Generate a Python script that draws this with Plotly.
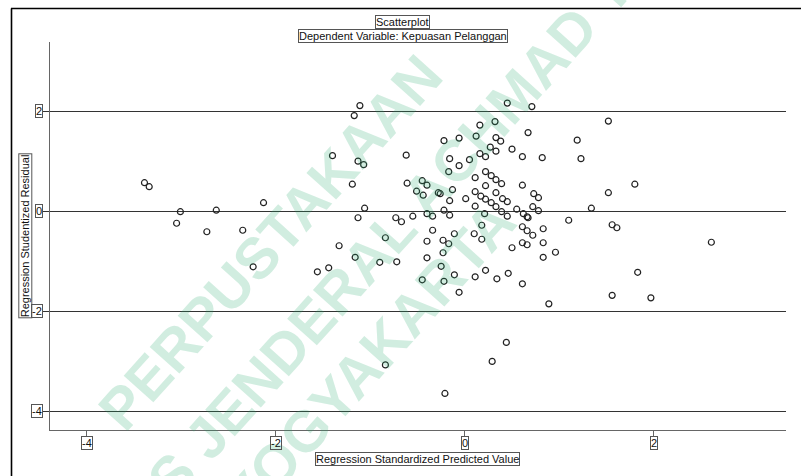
import plotly.graph_objects as go

# Regression residual scatter: standardized predicted value vs studentized residual
pred_std = [
    -3.39, -3.34, -3.01, -3.05, -2.63, -2.73, -2.13, -2.35, -2.24, -1.56,
    -1.44, -1.33, -1.16, -0.90, -0.72, -0.84, -0.84, -1.11, -1.17, -1.40,
    -1.13, -1.07, -1.19, -1.06, -1.13, -0.73, -0.67, -0.62, -0.61, -0.45,
    -0.40, -0.51, -0.44, -0.55, -0.40, -0.40, -0.40, -0.45,
    -0.22, -0.11, 0.11, 0.22, 0.34, 0.46, 0.61, -0.06, 0.89, -0.21,
    0.29, 0.44, -0.23, -0.17, -0.23, -0.25, 0.18, 0.50, 0.61, 0.66,
    0.83, 0.83, 0.96, -0.34, -0.34, -0.11, 0.10, 0.18, -0.22, -0.16,
    0.21, 0.11, -0.16, 0.01, -0.28, -0.26, -0.13, 0.11, 0.17, 0.22,
    0.28, 0.33, 0.39, 0.45, 0.33, 0.40, 0.45, 0.11, 0.22, 0.22,
    0.28, 0.33, 0.39, 0.61, -0.17, -0.06, -0.16, 0.05, 0.16, 0.22,
    0.27, 0.33, -0.22, -0.06, 0.12, 0.33, 0.38, 0.16, 0.32, 0.45,
    0.71, 0.67, 0.50, 0.61, 0.82, 0.73, 0.78, 0.55, 0.72, 0.78,
    0.62, 0.66, 0.67, 0.61, 0.66, 0.72, 0.83, 1.10, 1.34, 1.56,
    1.61, 1.52, 1.80, 1.19, 1.23, 1.52, 1.83, 1.56, 1.97, 2.61,
]
resid_stud = [
    0.57, 0.49, -0.01, -0.24, 0.02, -0.41, 0.17, -0.38, -1.11, -1.21,
    -1.13, -0.69, -0.92, -1.02, -1.01, -3.07, -0.53, 2.11, 1.91, 1.11,
    1.00, 0.93, 0.54, 0.06, -0.13, -0.13, -0.21, 1.12, 0.56, 0.61,
    0.52, 0.40, 0.32, -0.10, -0.05, -0.60, -0.93, -1.37,
    -1.40, -1.27, -1.31, -1.18, -1.35, -1.24, -1.45, -1.62, -1.85, -3.64,
    -3.00, -2.62, -0.58, -0.65, -0.83, -1.10, -0.56, -0.73, -0.63, -0.67,
    -0.63, -0.92, -0.82, -0.38, -0.10, -0.45, -0.45, -0.28, 0.02, -0.08,
    -0.05, 0.10, 0.21, 0.25, 0.37, 0.35, 0.43, 0.39, 0.30, 0.24,
    0.17, 0.09, -0.01, -0.10, 0.37, 0.25, 0.19, 0.67, 0.51, 0.79,
    0.71, 0.63, 0.55, 0.52, 0.79, 0.91, 1.05, 1.03, 1.15, 1.09,
    1.28, 1.20, 1.41, 1.46, 1.50, 1.47, 1.40, 1.72, 1.79, 2.16,
    2.09, 1.57, 1.24, 1.09, 1.07, 0.35, 0.27, 0.04, 0.09, 0.01,
    -0.05, -0.11, -0.13, -0.31, -0.39, -0.48, -0.35, -0.18, 0.06, -0.27,
    -0.33, 0.37, 0.54, 1.42, 1.05, 1.80, -1.22, -1.68, -1.73, -0.62,
]

x_ticks = [-4, -2, 0, 2]
y_ticks = [-4, -2, 0, 2]
x_range = [-4.39, 3.40]
y_range = [-4.37, 3.38]

title_main = "Scatterplot"
title_sub = "Dependent Variable: Kepuasan Pelanggan"
x_title = "Regression Standardized Predicted Value"
y_title = "Regression Studentized Residual"
watermark_lines = ["PERPUSTAKAAN", "UNIVERSITAS JENDERAL ACHMAD YANI", "YOGYAKARTA"]

W, H = 801, 476
ML, MR, MT, MB = 50, 15, 42, 46
PW, PH = W - ML - MR, H - MT - MB


def px_x(p):
    return (p - ML) / PW


def px_y(p):
    return (H - MB - p) / PH


FONT = "Liberation Sans, Arial, sans-serif"
BOX = "#555555"

fig = go.Figure()

fig.add_trace(go.Scatter(
    x=pred_std, y=resid_stud, mode="markers",
    marker=dict(symbol="circle-open", size=6, color="#222222",
                line=dict(width=1.2, color="#222222")),
    hoverinfo="x+y", showlegend=False,
))

ann = []

# diagonal library watermark (drawn first so labels sit on top)
wm_centers = [(270, 243), (305, 327), (368, 360)]
for text, (cx, cy) in zip(watermark_lines, wm_centers):
    ann.append(dict(x=px_x(cx), y=px_y(cy), xref="paper", yref="paper", text=text,
                    showarrow=False, xanchor="center", yanchor="middle", textangle=-48,
                    font=dict(family=FONT, size=58, weight="bold",
                              color="rgba(40,170,110,0.21)")))

for v in y_ticks:
    ann.append(dict(x=0, xref="paper", y=v, yref="y", text=str(v),
                    xanchor="right", yanchor="middle", xshift=-7,
                    showarrow=False, bordercolor=BOX, borderwidth=1, borderpad=0,
                    font=dict(family=FONT, size=11, color="#111")))
for v in x_ticks:
    ann.append(dict(x=v, xref="x", y=0, yref="paper", text=str(v),
                    xanchor="center", yanchor="top", yshift=-6,
                    showarrow=False, bordercolor=BOX, borderwidth=1, borderpad=0,
                    font=dict(family=FONT, size=11, color="#111")))

ann += [
    dict(x=px_x(402.5), y=px_y(22), xref="paper", yref="paper", text=title_main,
         showarrow=False, xanchor="center", yanchor="middle",
         bordercolor=BOX, borderwidth=1, borderpad=0,
         font=dict(family=FONT, size=11, color="#111")),
    dict(x=px_x(402.5), y=px_y(35.5), xref="paper", yref="paper", text=title_sub,
         showarrow=False, xanchor="center", yanchor="middle",
         bordercolor=BOX, borderwidth=1, borderpad=0,
         font=dict(family=FONT, size=11, color="#111")),
    dict(x=px_x(417.7), y=px_y(458.5), xref="paper", yref="paper", text=x_title,
         showarrow=False, xanchor="center", yanchor="middle",
         bordercolor=BOX, borderwidth=1, borderpad=0,
         font=dict(family=FONT, size=11, color="#111")),
    dict(x=px_x(24.8), y=px_y(235.5), xref="paper", yref="paper", text=y_title,
         showarrow=False, xanchor="center", yanchor="middle", textangle=-90,
         bordercolor=BOX, borderwidth=1, borderpad=0,
         font=dict(family=FONT, size=11, color="#111")),
]

shapes = [
    dict(type="line", xref="paper", yref="paper", x0=px_x(11), x1=px_x(801),
         y0=px_y(8.5), y1=px_y(8.5), line=dict(color="#000", width=1.6)),
    dict(type="line", xref="paper", yref="paper", x0=px_x(11.5), x1=px_x(11.5),
         y0=px_y(8.5), y1=px_y(476), line=dict(color="#000", width=1.6)),
]

fig.update_layout(
    width=W, height=H,
    margin=dict(l=ML, r=MR, t=MT, b=MB),
    paper_bgcolor="white", plot_bgcolor="white",
    annotations=ann, shapes=shapes,
    xaxis=dict(range=x_range, tickvals=x_ticks, showticklabels=False,
               showgrid=False, zeroline=False, showline=True,
               linecolor="#666", linewidth=1, ticks="outside", ticklen=6,
               tickcolor="#666", tickwidth=1),
    yaxis=dict(range=y_range, tickvals=y_ticks, showticklabels=False,
               showgrid=True, gridcolor="#333", gridwidth=1,
               zeroline=False, showline=True, linecolor="#666", linewidth=1,
               ticks="outside", ticklen=7, tickcolor="#333", tickwidth=1),
)

fig.write_html("out.html")
